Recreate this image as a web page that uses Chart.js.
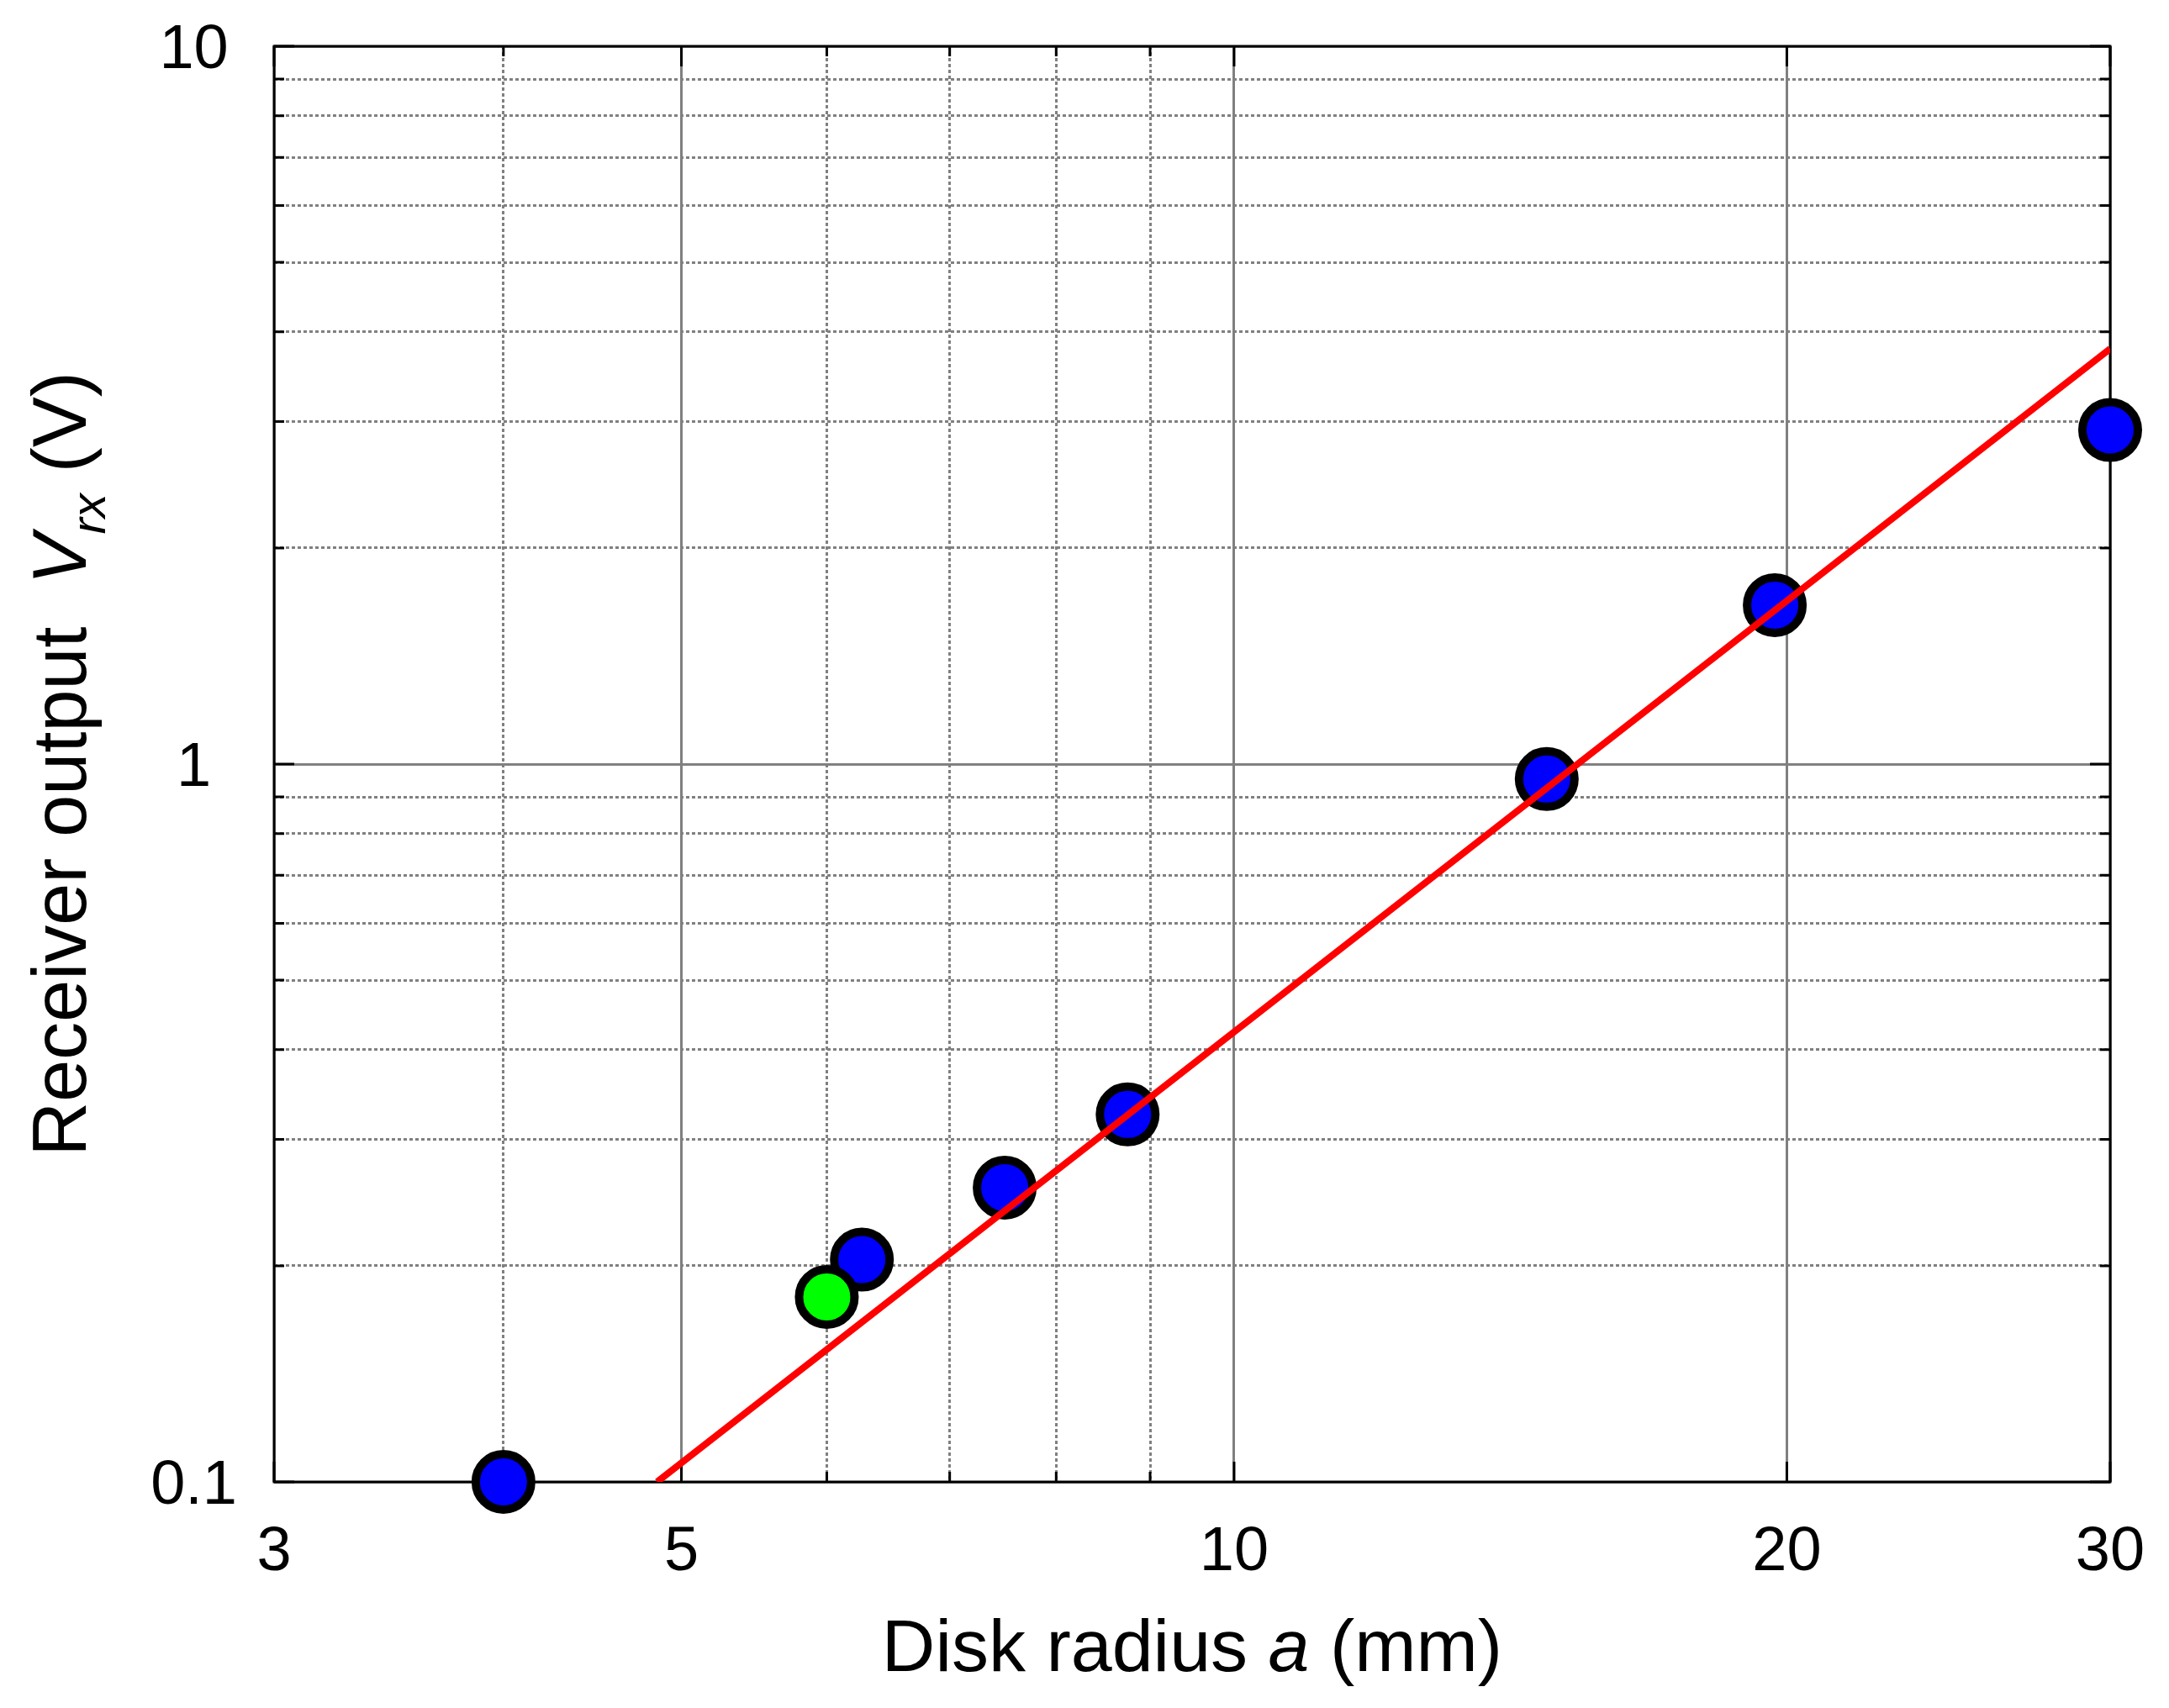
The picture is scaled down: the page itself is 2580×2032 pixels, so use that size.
<!DOCTYPE html>
<html>
<head>
<meta charset="utf-8">
<script src="https://cdn.jsdelivr.net/npm/chart.js@4.4.1/dist/chart.umd.min.js"></script>
<style>
  html, body { margin: 0; padding: 0; background: #fff; }
  #wrap { width: 2580px; height: 2032px; }
</style>
</head>
<body>
<div id="wrap"><canvas id="chart" width="2580" height="2032"></canvas></div>
<script>
// ── data (disk radius in mm, receiver output in V) ──
const radiusBlue = [4.0, 6.27, 7.5, 8.75, 14.8, 19.7, 30];
const voltBlue   = [0.1, 0.204, 0.257, 0.325, 0.953, 1.665, 2.92];
const radiusGreen = [6.0];
const voltGreen   = [0.181];
// fitted power law (slope ~2 on log-log), end points
const fitRadius = [4.85, 30];
const fitVolt   = [0.1, 3.79];

// ── axes ──
const xTickVals   = [3, 4, 5, 6, 7, 8, 9, 10, 20, 30];
const xTickLabels = [3, 5, 10, 20, 30];
const yTickVals   = [0.1, 0.2, 0.3, 0.4, 0.5, 0.6, 0.7, 0.8, 0.9, 1, 2, 3, 4, 5, 6, 7, 8, 9, 10];
const yTickLabels = [0.1, 1, 10];

const FONT = '"Liberation Sans", Arial, Helvetica, sans-serif';

const pts = (xs, ys) => xs.map((x, i) => ({ x, y: ys[i] }));
const isMajorX = v => xTickLabels.includes(v);
const isMajorY = v => yTickLabels.includes(v);

// inward tick marks on all four sides + black frame, drawn under the markers
const frameTicks = {
  id: "frameTicks",
  beforeDatasetsDraw(chart) {
    const { ctx, chartArea: { left, right, top, bottom }, scales: { x, y } } = chart;
    ctx.save();
    ctx.strokeStyle = "#000";
    ctx.lineWidth = 3;
    ctx.beginPath();
    xTickVals.forEach(v => {
      const px = x.getPixelForValue(v);
      const len = isMajorX(v) ? 24 : 12;
      ctx.moveTo(px, bottom); ctx.lineTo(px, bottom - len);
      ctx.moveTo(px, top);    ctx.lineTo(px, top + len);
    });
    yTickVals.forEach(v => {
      const py = y.getPixelForValue(v);
      const len = isMajorY(v) ? 24 : 12;
      ctx.moveTo(left, py);  ctx.lineTo(left + len, py);
      ctx.moveTo(right, py); ctx.lineTo(right - len, py);
    });
    ctx.stroke();
    ctx.strokeRect(left, top, right - left, bottom - top);
    ctx.restore();
  },
};

// text made of runs with different styles (italic symbol, subscript)
function drawRuns(ctx, runs) {
  let total = 0;
  runs.forEach(r => { ctx.font = r.font; total += ctx.measureText(r.text).width; });
  let cx = -total / 2;
  runs.forEach(r => {
    ctx.font = r.font;
    ctx.fillText(r.text, cx, r.dy || 0);
    cx += ctx.measureText(r.text).width;
  });
}

const axisTitles = {
  id: "axisTitles",
  afterDraw(chart) {
    const { ctx, chartArea: { left, right, top, bottom } } = chart;
    ctx.save();
    ctx.fillStyle = "#000";
    ctx.textBaseline = "alphabetic";
    ctx.textAlign = "left";

    ctx.save();
    ctx.translate((left + right) / 2, 1988);
    drawRuns(ctx, [
      { text: "Disk radius ", font: `88px ${FONT}` },
      { text: "a", font: `italic 88px ${FONT}` },
      { text: " (mm)", font: `88px ${FONT}` },
    ]);
    ctx.restore();

    ctx.save();
    ctx.translate(102, (top + bottom) / 2);
    ctx.rotate(-Math.PI / 2);
    drawRuns(ctx, [
      { text: "Receiver output  ", font: `90px ${FONT}` },
      { text: "V", font: `italic 90px ${FONT}` },
      { text: "rx", font: `italic 58px ${FONT}`, dy: 23 },
      { text: " (V)", font: `90px ${FONT}` },
    ]);
    ctx.restore();

    ctx.restore();
  },
};

const gridColor = "#808080";

new Chart(document.getElementById("chart"), {
  type: "scatter",
  data: {
    datasets: [
      {
        type: "line",
        label: "fit",
        data: pts(fitRadius, fitVolt),
        borderColor: "#ff0000",
        borderWidth: 8,
        pointRadius: 0,
        fill: false,
        tension: 0,
        order: 0,
      },
      {
        label: "green",
        data: pts(radiusGreen, voltGreen),
        backgroundColor: "#00ff00",
        borderColor: "#000",
        borderWidth: 10,
        pointRadius: 33,
        pointHoverRadius: 33,
        clip: false,
        order: 1,
      },
      {
        label: "blue",
        data: pts(radiusBlue, voltBlue),
        backgroundColor: "#0000ff",
        borderColor: "#000",
        borderWidth: 10,
        pointRadius: 33,
        pointHoverRadius: 33,
        clip: false,
        order: 2,
      },
    ],
  },
  options: {
    responsive: false,
    devicePixelRatio: 1,
    animation: false,
    events: [],
    layout: { padding: { left: 0, top: 55, right: 70, bottom: 0 } },
    plugins: {
      legend: { display: false },
      tooltip: { enabled: false },
    },
    scales: {
      x: {
        type: "logarithmic",
        min: 3,
        max: 30,
        afterBuildTicks: s => { s.ticks = xTickVals.map(v => ({ value: v })); },
        afterFit: s => { s.height = 269; s.paddingLeft = 0; s.paddingRight = 0; },
        ticks: {
          autoSkip: false,
          maxRotation: 0,
          minRotation: 0,
          padding: 40,
          color: "#000",
          font: { family: FONT, size: 74 },
          callback: v => (xTickLabels.includes(v) ? String(v) : ""),
        },
        grid: {
          drawTicks: false,
          color: gridColor,
          lineWidth: 3,
        },
        border: {
          display: false,
          dash: ctx => (ctx.tick && isMajorX(ctx.tick.value) ? [] : [4, 3]),
        },
      },
      y: {
        type: "logarithmic",
        min: 0.1,
        max: 10,
        afterBuildTicks: s => { s.ticks = yTickVals.map(v => ({ value: v })); },
        afterFit: s => { s.width = 326; s.paddingTop = 0; s.paddingBottom = 0; },
        ticks: {
          autoSkip: false,
          crossAlign: "center",
          padding: 44,
          labelOffset: 6,
          color: "#000",
          font: { family: FONT, size: 74 },
          callback: v => (yTickLabels.includes(v) ? String(v) : ""),
        },
        grid: {
          drawTicks: false,
          color: gridColor,
          lineWidth: 3,
        },
        border: {
          display: false,
          dash: ctx => (ctx.tick && isMajorY(ctx.tick.value) ? [] : [4, 3]),
        },
      },
    },
  },
  plugins: [frameTicks, axisTitles],
});
</script>
</body>
</html>
